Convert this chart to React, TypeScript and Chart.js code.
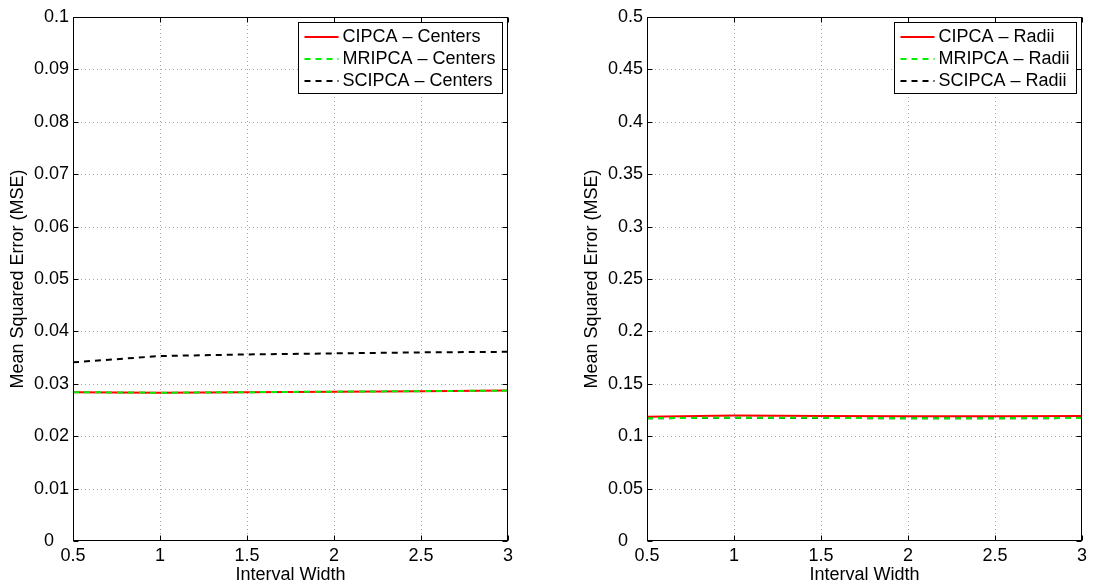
import React, { useEffect, useRef } from 'react';
import { Chart, registerables } from 'chart.js';

Chart.register(...registerables);

// ---- data ----
const intervalWidths = [0.5, 1, 1.5, 2, 2.5, 3];

const cipcaCenters = [0.0284, 0.0283, 0.0284, 0.0285, 0.0286, 0.0287];
const mripcaCenters = [0.0284, 0.0283, 0.0284, 0.0285, 0.0286, 0.0287];
const scipcaCenters = [0.0341, 0.0353, 0.0356, 0.0358, 0.036, 0.0361];

const cipcaRadii = [0.1186, 0.1197, 0.1193, 0.119, 0.119, 0.1193];
const mripcaRadii = [0.1172, 0.1177, 0.1175, 0.1172, 0.1172, 0.1174];
const scipcaRadii = [0.1171, 0.1176, 0.1174, 0.1171, 0.1171, 0.1173];

const centerLabels = ['CIPCA \u2013 Centers', 'MRIPCA \u2013 Centers', 'SCIPCA \u2013 Centers'];
const radiiLabels = ['CIPCA \u2013 Radii', 'MRIPCA \u2013 Radii', 'SCIPCA \u2013 Radii'];

const xTitle = 'Interval Width';
const yTitle = 'Mean Squared Error (MSE)';

const FONT = '"Liberation Sans", Arial, Helvetica, sans-serif';
const FS = 18;

const fmt = (v: number) => {
  const n = Number(Number(v).toFixed(4));
  return n === 0 ? '0' : String(n);
};

const matlabPlugin = {
  id: 'matlabFrame',
  beforeDatasetsDraw(chart: any) {
    const { ctx, chartArea: a, scales } = chart;
    ctx.save();
    ctx.strokeStyle = '#a8a8a8';
    ctx.lineWidth = 1;
    ctx.setLineDash([1, 3]);
    for (const t of scales.x.ticks) {
      const px = Math.round(scales.x.getPixelForValue(t.value)) + 0.5;
      if (Math.abs(px - a.left) < 2 || Math.abs(px - a.right) < 2) continue;
      ctx.beginPath();
      ctx.moveTo(px, a.top);
      ctx.lineTo(px, a.bottom);
      ctx.stroke();
    }
    for (const t of scales.y.ticks) {
      const py = Math.round(scales.y.getPixelForValue(t.value)) + 0.5;
      if (Math.abs(py - a.top) < 2 || Math.abs(py - a.bottom) < 2) continue;
      ctx.beginPath();
      ctx.moveTo(a.left, py);
      ctx.lineTo(a.right, py);
      ctx.stroke();
    }
    ctx.restore();
  },
  afterDatasetsDraw(chart: any) {
    const { ctx, chartArea: a, scales } = chart;
    ctx.save();
    ctx.setLineDash([]);
    ctx.strokeStyle = '#000';
    ctx.lineWidth = 1;
    const L = Math.round(a.left) + 0.5;
    const R = Math.round(a.right) - 0.5;
    const T = Math.round(a.top) + 0.5;
    const B = Math.round(a.bottom) - 0.5;
    ctx.strokeRect(L, T, R - L, B - T);
    const tl = 5;
    ctx.beginPath();
    for (const t of scales.x.ticks) {
      const px = Math.round(scales.x.getPixelForValue(t.value)) + 0.5;
      ctx.moveTo(px, B);
      ctx.lineTo(px, B - tl);
      ctx.moveTo(px, T);
      ctx.lineTo(px, T + tl);
    }
    for (const t of scales.y.ticks) {
      const py = Math.round(scales.y.getPixelForValue(t.value)) + 0.5;
      ctx.moveTo(L, py);
      ctx.lineTo(L + tl, py);
      ctx.moveTo(R, py);
      ctx.lineTo(R - tl, py);
    }
    ctx.stroke();

    // legend
    const ds = chart.data.datasets;
    ctx.font = `${FS}px ${FONT}`;
    let maxW = 0;
    for (const d of ds) maxW = Math.max(maxW, ctx.measureText(d.label).width);
    const boxW = 44 + maxW + 7;
    const boxR = Math.round(a.right) - 5.5;
    const boxL = boxR - Math.round(boxW);
    const boxT = Math.round(a.top) + 5.5;
    const rowH = 22;
    const boxH = 14 + rowH * (ds.length - 1) + 13;
    ctx.fillStyle = '#fff';
    ctx.fillRect(boxL, boxT, boxR - boxL, boxH);
    ctx.strokeStyle = '#000';
    ctx.lineWidth = 1;
    ctx.strokeRect(boxL, boxT, boxR - boxL, boxH);
    ctx.textBaseline = 'middle';
    ctx.textAlign = 'left';
    ds.forEach((d: any, i: number) => {
      const cy = boxT + 14 + rowH * i;
      ctx.save();
      ctx.strokeStyle = d.borderColor;
      ctx.lineWidth = d.borderWidth;
      ctx.setLineDash(d.borderDash || []);
      ctx.beginPath();
      ctx.moveTo(boxL + 6, Math.round(cy));
      ctx.lineTo(boxL + 40, Math.round(cy));
      ctx.stroke();
      ctx.restore();
      ctx.fillStyle = '#000';
      ctx.fillText(d.label, boxL + 44, cy + 1);
    });
    ctx.restore();
  },
};

type Spec = {
  labels: string[];
  series: number[][];
  yMax: number;
  yStep: number;
  padRight: number;
};

function makeDatasets(spec: Spec) {
  const colors = ['#ff0000', '#00f000', '#000000'];
  const dashes = [[], [6, 5], [6, 5]];
  const orders = [2, 1, 3];
  return spec.series.map((vals, i) => ({
    label: spec.labels[i],
    data: intervalWidths.map((x, j) => ({ x, y: vals[j] })),
    borderColor: colors[i],
    backgroundColor: colors[i],
    borderWidth: 2,
    borderDash: dashes[i],
    pointRadius: 0,
    tension: 0,
    fill: false,
    order: orders[i],
  }));
}

function MseChart({ spec, left, width }: { spec: Spec; left: number; width: number }) {
  const ref = useRef<HTMLCanvasElement>(null);
  useEffect(() => {
    const chart = new Chart(ref.current as HTMLCanvasElement, {
      type: 'line',
      data: { datasets: makeDatasets(spec) as any },
      plugins: [matlabPlugin as any],
      options: {
        responsive: false,
        animation: false,
        layout: { padding: { top: 17, right: spec.padRight, left: 0, bottom: 0 } },
        plugins: { legend: { display: false }, tooltip: { enabled: false } },
        scales: {
          x: {
            type: 'linear',
            min: 0.5,
            max: 3,
            grid: { display: false, drawTicks: false },
            border: { display: false },
            ticks: {
              stepSize: 0.5,
              callback: (v: any) => fmt(v),
              font: { family: FONT, size: FS },
              color: '#000',
              padding: 4,
              maxRotation: 0,
              autoSkip: false,
            },
            title: {
              display: true,
              text: xTitle,
              font: { family: FONT, size: FS, lineHeight: 1 },
              color: '#000',
              padding: { top: 0, bottom: 1 },
            },
            afterFit: (s: any) => {
              s.height = 44;
            },
          },
          y: {
            type: 'linear',
            min: 0,
            max: spec.yMax,
            grid: { display: false, drawTicks: false },
            border: { display: false },
            ticks: {
              stepSize: spec.yStep,
              callback: (v: any) => (Number(v) === 0 ? '0   ' : fmt(v)),
              font: { family: FONT, size: FS },
              color: '#000',
              padding: 4,
              autoSkip: false,
            },
            title: {
              display: true,
              text: yTitle,
              font: { family: FONT, size: FS, lineHeight: 1 },
              color: '#000',
              padding: { top: 9, bottom: 0 },
            },
            afterFit: (s: any) => {
              s.width = 73;
            },
          },
        },
      } as any,
    });
    return () => chart.destroy();
  }, []);
  return (
    <div style={{ position: 'absolute', left, top: 0, width, height: 585 }}>
      <canvas ref={ref} width={width} height={585} style={{ display: 'block' }} />
    </div>
  );
}

const centersSpec: Spec = {
  labels: centerLabels,
  series: [cipcaCenters, mripcaCenters, scipcaCenters],
  yMax: 0.1,
  yStep: 0.01,
  padRight: 32,
};

const radiiSpec: Spec = {
  labels: radiiLabels,
  series: [cipcaRadii, mripcaRadii, scipcaRadii],
  yMax: 0.5,
  yStep: 0.05,
  padRight: 11,
};

export default function App() {
  return (
    <div style={{ position: 'absolute', left: 0, top: 0, width: 1093, height: 585, background: '#fff', overflow: 'hidden' }}>
      <MseChart spec={centersSpec} left={0} width={540} />
      <MseChart spec={radiiSpec} left={574} width={519} />
    </div>
  );
}
